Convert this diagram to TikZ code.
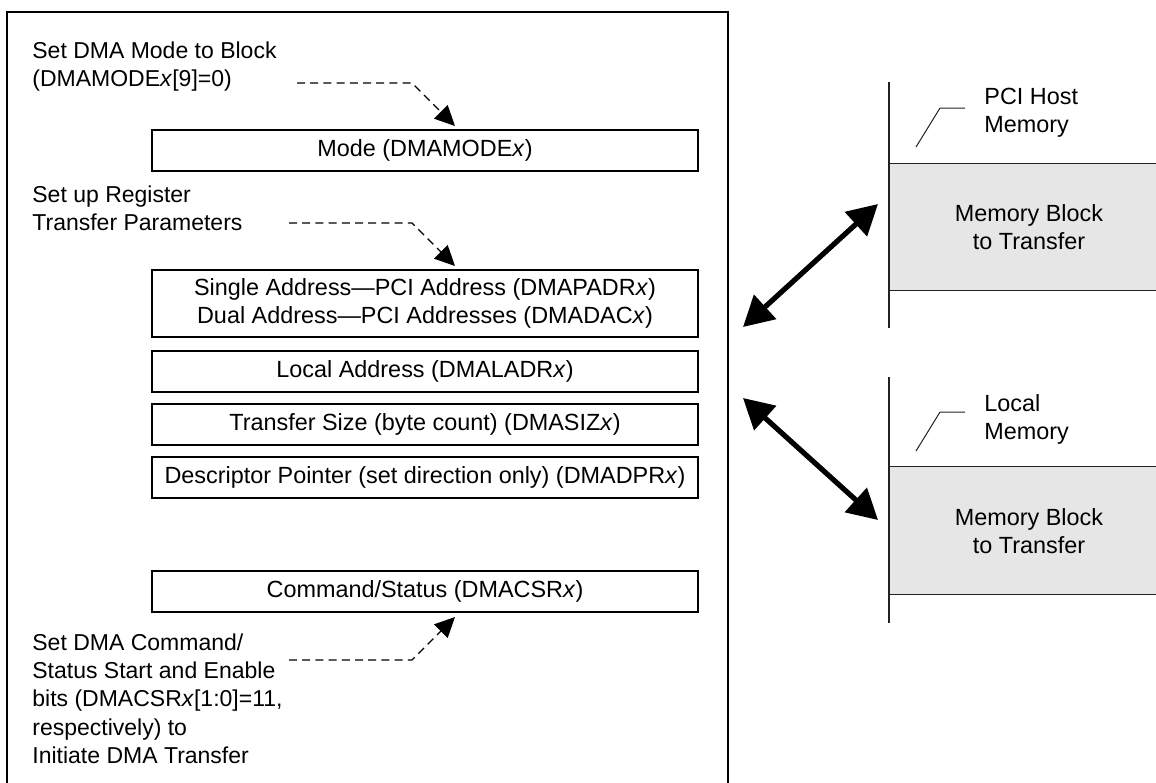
\documentclass[tikz,border=0pt]{standalone}
\usepackage{fontspec}
\setmainfont{Liberation Sans}
\usetikzlibrary{arrows.meta}
\definecolor{blockgray}{HTML}{E6E6E6}
\definecolor{inkgray}{HTML}{222222}
\tikzset{
  regbox/.style={draw=black, line width=1pt, inner sep=0pt, minimum width=273pt, minimum height=20.5pt, align=center, font=\fontsize{11.7}{13.8}\selectfont},
  notetext/.style={anchor=north west, inner sep=0pt, align=left, font=\fontsize{11.5}{14.2}\selectfont},
  dasharrow/.style={line width=0.65pt, dash pattern=on 4pt off 2.6pt, -{Triangle[length=10pt,width=9.5pt]}},
  bigarrow/.style={line width=2.6pt, {Triangle[length=15pt,width=16pt]}-{Triangle[length=15pt,width=16pt]}},
  leader/.style={draw=inkgray, line width=0.5pt},
  memlabel/.style={anchor=north west, inner sep=0pt, align=left, font=\fontsize{11.7}{14}\selectfont},
  blocklabel/.style={inner sep=0pt, align=center, font=\fontsize{11.7}{14}\selectfont}
}
\begin{document}
\begin{tikzpicture}[x=0.5pt,y=-0.5pt]
\useasboundingbox (0,0) rectangle (1156,782);
% frame
\draw[line width=1pt] (7,790) -- (7,12) -- (728,12) -- (728,790);
% register boxes
\node[regbox] (mode) at (425,150.5) {Mode (DMAMODE\textit{x})};
\node[regbox, minimum height=33.5pt] (addr) at (425,303.5) {Single Address—PCI Address (DMAPADR\textit{x})\\Dual Address—PCI Addresses (DMADAC\textit{x})};
\node[regbox] (laddr) at (425,371) {Local Address (DMALADR\textit{x})};
\node[regbox] (tsize) at (425,424) {Transfer Size (byte count) (DMASIZ\textit{x})};
\node[regbox] (desc) at (425,477) {Descriptor Pointer (set direction only) (DMADPR\textit{x})};
\node[regbox] (cmd) at (425,591.5) {Command/Status (DMACSR\textit{x})};
% notes
\node[notetext] (n1) at (32,41) {Set DMA Mode to Block\\(DMAMODE\textit{x}[9]=0)};
\node[notetext] (n2) at (32,185) {Set up Register\\Transfer Parameters};
\node[notetext] (n3) at (32,633) {Set DMA Command/\\Status Start and Enable\\bits (DMACSR\textit{x}[1:0]=11,\\respectively) to\\Initiate DMA Transfer};
% dashed arrows
\coordinate (d1s) at (297,83);
\coordinate (d1b) at (412,83);
\coordinate (d1e) at (455,126);
\draw[dasharrow] (d1s) -- (d1b) -- (d1e);
\coordinate (d2s) at (289,223);
\coordinate (d2b) at (412,223);
\coordinate (d2e) at (455,266);
\draw[dasharrow] (d2s) -- (d2b) -- (d2e);
\coordinate (d3s) at (289,660);
\coordinate (d3b) at (412,660);
\coordinate (d3e) at (455,617);
\draw[dasharrow] (d3s) -- (d3b) -- (d3e);
% memory regions
\fill[blockgray] (889,163) rectangle (1160,290);
\draw[leader] (889,163) -- (1160,163);
\draw[leader] (889,290) -- (1160,290);
\draw[line width=1pt, draw=inkgray] (889,82) -- (889,328);
\node[blocklabel] (mb1) at (1029,227) {Memory Block\\to Transfer};
\node[memlabel] (pci) at (984,88) {PCI Host\\Memory};
\coordinate (l1a) at (916,147);
\coordinate (l1b) at (940,108);
\coordinate (l1c) at (965,108);
\draw[leader] (l1a) -- (l1b) -- (l1c);

\fill[blockgray] (889,466) rectangle (1160,594);
\draw[leader] (889,466) -- (1160,466);
\draw[leader] (889,594) -- (1160,594);
\draw[line width=1pt, draw=inkgray] (889,377) -- (889,623);
\node[blocklabel] (mb2) at (1029,531) {Memory Block\\to Transfer};
\node[memlabel] (loc) at (984,394) {Local\\Memory};
\coordinate (l2a) at (916,451);
\coordinate (l2b) at (940,412);
\coordinate (l2c) at (965,412);
\draw[leader] (l2a) -- (l2b) -- (l2c);
% double arrows
\coordinate (a1s) at (743,327);
\coordinate (a1e) at (878,204);
\draw[bigarrow] (a1s) -- (a1e);
\coordinate (a2s) at (743,398);
\coordinate (a2e) at (878,520);
\draw[bigarrow] (a2s) -- (a2e);
\end{tikzpicture}
\end{document}
